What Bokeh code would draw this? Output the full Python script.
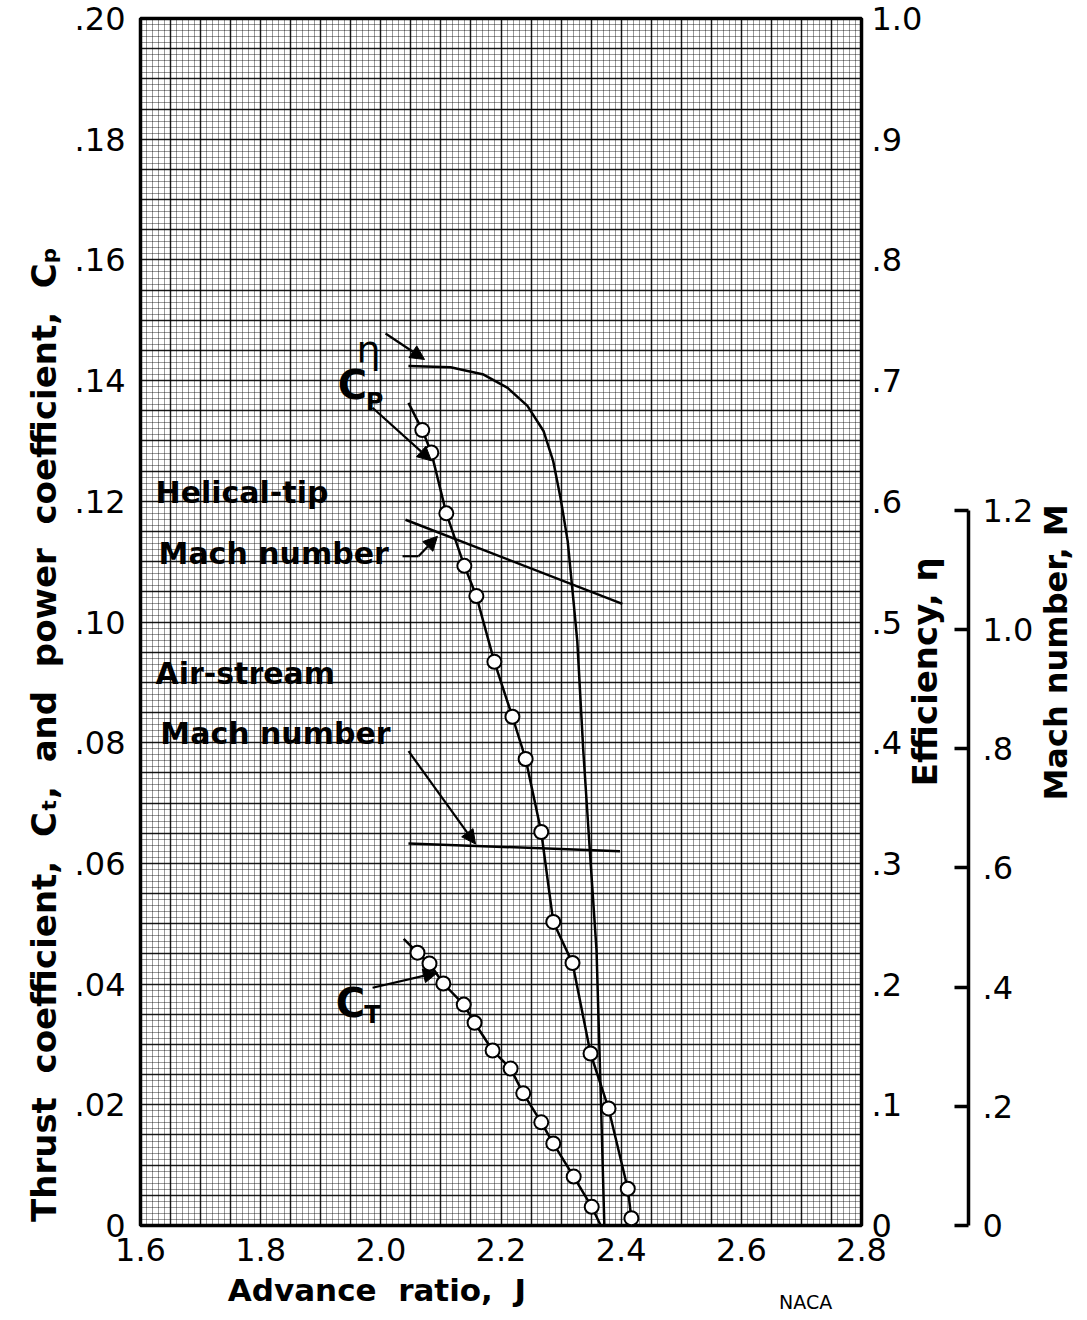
import math
from bokeh.plotting import figure
from bokeh.models import (Range1d, LinearAxis, FixedTicker, SingleIntervalTicker,
                          CustomJSTickFormatter, Arrow, NormalHead)
from bokeh.core.properties import value
from bokeh.embed import file_html
from bokeh.resources import INLINE

# ---------------- data ----------------
# power coefficient C_P (open circles)
cp_j = [2.069, 2.084, 2.109, 2.139, 2.159, 2.189, 2.219, 2.241, 2.267, 2.287, 2.319, 2.349, 2.379, 2.411, 2.417]
cp = [0.1318, 0.1281, 0.1180, 0.1093, 0.1043, 0.0934, 0.0843, 0.0773, 0.0652, 0.0503, 0.0435, 0.0285, 0.0194, 0.0061, 0.0012]
# faired C_P curve (extends slightly above the first point)
cp_curve_j = [2.046] + cp_j
cp_curve = [0.1363] + cp

# thrust coefficient C_T (open circles)
ct_j = [2.061, 2.081, 2.104, 2.138, 2.156, 2.186, 2.216, 2.237, 2.267, 2.287, 2.321, 2.351]
ct = [0.0452, 0.0434, 0.0401, 0.0366, 0.0336, 0.0290, 0.0260, 0.0219, 0.0171, 0.0136, 0.0081, 0.0031]
ct_curve_j = [2.038] + ct_j + [2.366]
ct_curve = [0.0475] + ct + [0.0]

# efficiency eta (faired curve)
eff_j = [2.046, 2.116, 2.171, 2.211, 2.244, 2.271, 2.287, 2.299, 2.311, 2.319, 2.327, 2.337, 2.349, 2.359, 2.366, 2.372]
eff = [0.712, 0.711, 0.705, 0.694, 0.679, 0.658, 0.633, 0.603, 0.567, 0.526, 0.484, 0.393, 0.302, 0.228, 0.109, 0.0]

# Mach numbers
helical_j = [2.041, 2.402]
helical_m = [1.184, 1.043]
air_j = [2.046, 2.398]
air_m = [0.641, 0.628]

# ticks
x_ticks = [1.6, 1.8, 2.0, 2.2, 2.4, 2.6, 2.8]
c_ticks = [0, 0.02, 0.04, 0.06, 0.08, 0.10, 0.12, 0.14, 0.16, 0.18, 0.20]
eff_ticks = [0, 0.1, 0.2, 0.3, 0.4, 0.5, 0.6, 0.7, 0.8, 0.9, 1.0]
mach_ticks = [0, 0.2, 0.4, 0.6, 0.8, 1.0, 1.2]

# where the side titles start (axis units)
eff_title_at = [0.364]
mach_title_at = [0.713]
naca_at = [2.707]

FONT = "DejaVu Sans"
NB = "\u00a0"

p = figure(frame_width=721, frame_height=1207,
           x_range=Range1d(1.6, 2.8), y_range=Range1d(0, 0.2),
           output_backend="svg", toolbar_location=None,
           min_border_left=140, min_border_top=18, min_border_bottom=0,
           min_border_right=0)
p.extra_y_ranges = {"eff": Range1d(0, 1.0), "mach": Range1d(0, 2.025)}
p.background_fill_color = "white"
p.border_fill_color = "white"
p.outline_line_color = "black"
p.outline_line_width = 3.5

fmt2 = CustomJSTickFormatter(code="""
if (Math.abs(tick) < 1e-9) return "0";
return tick.toFixed(2).replace(/^0\\./, ".");
""")
fmt1 = CustomJSTickFormatter(code="""
if (Math.abs(tick) < 1e-9) return "0";
return tick.toFixed(1).replace(/^0\\./, ".");
""")


def style_axis(ax):
    ax.major_label_text_font = FONT
    ax.major_label_text_font_size = "32px"
    ax.major_label_text_color = "black"
    ax.axis_label_text_font = FONT
    ax.axis_label_text_font_style = "bold"
    ax.axis_label_text_font_size = "30px"
    ax.axis_label_text_color = "black"
    ax.minor_tick_line_color = None


def title_axis(ax, size):
    ax.axis_line_color = None
    ax.major_tick_line_color = None
    ax.minor_tick_line_color = None
    ax.major_tick_out = 0
    ax.major_tick_in = 0
    ax.major_label_text_font = FONT
    ax.major_label_text_font_style = "bold"
    ax.major_label_text_font_size = size
    ax.major_label_text_color = "black"


# bottom axis
xa = p.xaxis[0]
xa.ticker = FixedTicker(ticks=x_ticks)
xa.formatter = fmt1
xa.axis_label = "Advance " + NB + "ratio, " + NB + "J" + NB * 23
style_axis(xa)
xa.axis_label_text_font_size = "31px"
xa.axis_line_color = None
xa.major_tick_line_color = None
xa.major_label_standoff = 6
xa.axis_label_standoff = 8

# NACA mark under the axis
na = LinearAxis(ticker=FixedTicker(ticks=naca_at),
                formatter=CustomJSTickFormatter(code='return "NACA";'))
title_axis(na, "19px")
na.major_tick_out = 6
na.major_label_text_font_style = "normal"
na.major_label_standoff = -26
p.add_layout(na, "below")

# left axis
ya = p.yaxis[0]
ya.ticker = FixedTicker(ticks=c_ticks)
ya.formatter = fmt2
ya.axis_label = ("Thrust " + NB + "coefficient, " + NB + "Cₜ, " + NB + "and " + NB +
                 "power " + NB + "coefficient, " + NB + "Cₚ" + NB * 19)
style_axis(ya)
ya.axis_label_text_font_size = "34px"
ya.axis_line_color = None
ya.major_tick_line_color = None
ya.major_label_standoff = 9
ya.axis_label_standoff = 8

# efficiency axis (right)
ea = LinearAxis(y_range_name="eff", ticker=FixedTicker(ticks=eff_ticks), formatter=fmt1)
style_axis(ea)
ea.axis_line_color = None
ea.major_tick_line_color = None
ea.major_tick_out = 0
ea.major_tick_in = 0
ea.major_label_standoff = 10
p.add_layout(ea, "right")

# efficiency title (rotated, reading upward)
et = LinearAxis(y_range_name="eff", ticker=FixedTicker(ticks=eff_title_at),
                formatter=CustomJSTickFormatter(code='return "Efficiency, η";'))
title_axis(et, "34px")
et.major_label_orientation = math.pi / 2
et.major_label_standoff = 0
p.add_layout(et, "right")

# Mach number axis (far right)
ma = LinearAxis(y_range_name="mach", ticker=FixedTicker(ticks=mach_ticks),
                formatter=fmt1, bounds=(0, 1.2))
style_axis(ma)
ma.axis_line_color = "black"
ma.axis_line_width = 3.5
ma.major_tick_line_color = "black"
ma.major_tick_line_width = 3.5
ma.major_tick_in = 14
ma.major_tick_out = 0
ma.major_label_standoff = 14
p.add_layout(ma, "right")

# Mach number title
mt = LinearAxis(y_range_name="mach", ticker=FixedTicker(ticks=mach_title_at),
                formatter=CustomJSTickFormatter(code='return "Mach number, M";'))
title_axis(mt, "32px")
mt.major_label_orientation = math.pi / 2
mt.major_label_standoff = 20
p.add_layout(mt, "right")

# graph-paper grid
p.xgrid.ticker = SingleIntervalTicker(interval=0.05, num_minor_ticks=5)
p.ygrid.ticker = SingleIntervalTicker(interval=0.005, num_minor_ticks=5)
for g in (p.xgrid, p.ygrid):
    g.grid_line_color = "black"
    g.grid_line_alpha = 0.85
    g.grid_line_width = 1.5
    g.minor_grid_line_color = "black"
    g.minor_grid_line_alpha = 0.4
    g.minor_grid_line_width = 1

# curves
p.line(cp_curve_j, cp_curve, line_color="black", line_width=2.5)
p.scatter(cp_j, cp, marker="circle", size=14, fill_color="white",
          line_color="black", line_width=2)
p.line(ct_curve_j, ct_curve, line_color="black", line_width=2.5)
p.scatter(ct_j, ct, marker="circle", size=14, fill_color="white",
          line_color="black", line_width=2)
p.line(eff_j, eff, y_range_name="eff", line_color="black", line_width=2.5)
p.line(helical_j, helical_m, y_range_name="mach", line_color="black", line_width=2.5)
p.line(air_j, air_m, y_range_name="mach", line_color="black", line_width=2.5)

# annotations (text)
p.text(x=[1.625, 1.630, 1.625, 1.633],
       y=[0.1214, 0.1114, 0.0914, 0.0815],
       text=["Helical-tip", "Mach number", "Air-stream", "Mach number"],
       text_font=value(FONT), text_font_style="bold", text_font_size="30px",
       text_align="left", text_baseline="middle", text_color="black")
p.text(x=[1.9795], y=[0.1451], text=["η"], text_font=value(FONT),
       text_font_size="38px", text_align="center", text_baseline="middle")
p.text(x=[1.9529, 1.9495], y=[0.1392, 0.0369], text=["C", "C"], text_font=value(FONT),
       text_font_style="bold", text_font_size="40px", text_align="center",
       text_baseline="middle")
p.text(x=[1.9895, 1.9862], y=[0.1365, 0.0349], text=["P", "T"], text_font=value(FONT),
       text_font_style="bold", text_font_size="24px", text_align="center",
       text_baseline="middle")


# leader arrows
def arrow(xs, ys, xe, ye):
    p.add_layout(Arrow(end=NormalHead(size=14, fill_color="black", line_color="black"),
                       x_start=xs, y_start=ys, x_end=xe, y_end=ye,
                       line_color="black", line_width=2.2))


arrow(2.0078, 0.1478, 2.0727, 0.1435)   # eta
arrow(1.9862, 0.1355, 2.0844, 0.1267)   # C_P
arrow(2.0627, 0.1109, 2.0943, 0.1142)   # helical-tip Mach number
p.line([2.0361, 2.0627], [0.1109, 0.1109], line_color="black", line_width=2.2)
arrow(2.0461, 0.0786, 2.1576, 0.0632)   # air-stream Mach number
arrow(1.9862, 0.0394, 2.0943, 0.0419)   # C_T

open("out.html", "w").write(file_html(p, INLINE))
